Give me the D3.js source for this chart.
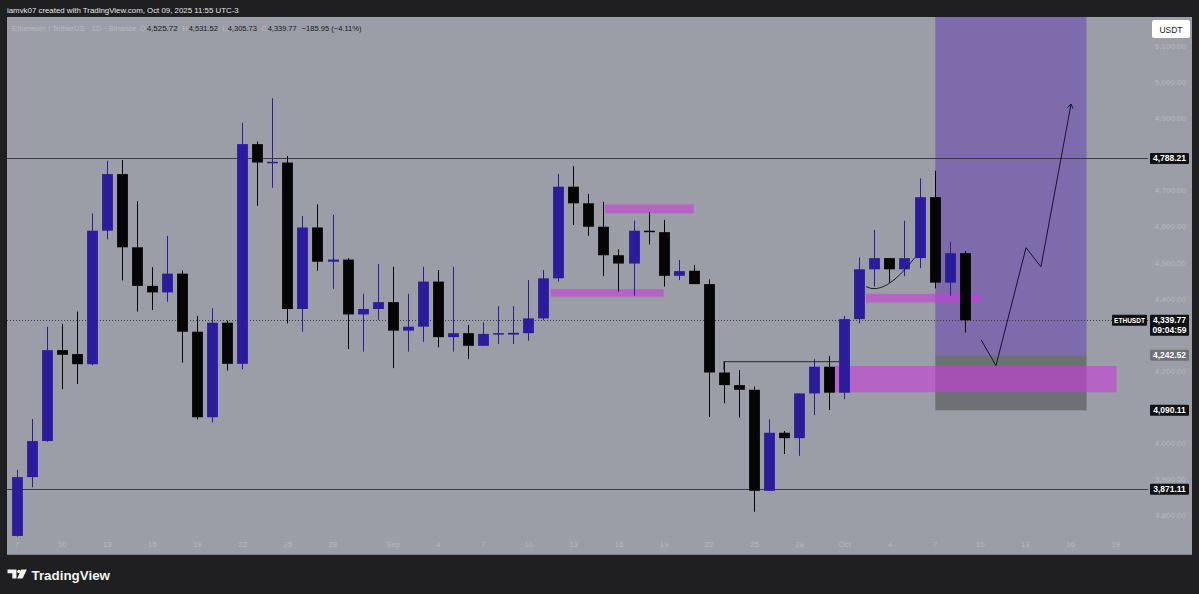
<!DOCTYPE html>
<html><head><meta charset="utf-8">
<script src="https://cdn.jsdelivr.net/npm/d3@7"></script>
<style>
html,body{margin:0;padding:0;background:#1f1f21;}
svg{display:block;}
text{font-family:"Liberation Sans","DejaVu Sans",sans-serif;}
</style></head><body>
<svg id="c" width="1199" height="594"></svg>
<script>
// ---------- DATA ----------
const dates = ["2025-08-07","2025-08-08","2025-08-09","2025-08-10","2025-08-11","2025-08-12","2025-08-13","2025-08-14","2025-08-15","2025-08-16",
"2025-08-17","2025-08-18","2025-08-19","2025-08-20","2025-08-21","2025-08-22","2025-08-23","2025-08-24","2025-08-25","2025-08-26",
"2025-08-27","2025-08-28","2025-08-29","2025-08-30","2025-08-31","2025-09-01","2025-09-02","2025-09-03","2025-09-04","2025-09-05",
"2025-09-06","2025-09-07","2025-09-08","2025-09-09","2025-09-10","2025-09-11","2025-09-12","2025-09-13","2025-09-14","2025-09-15",
"2025-09-16","2025-09-17","2025-09-18","2025-09-19","2025-09-20","2025-09-21","2025-09-22","2025-09-23","2025-09-24","2025-09-25",
"2025-09-26","2025-09-27","2025-09-28","2025-09-29","2025-09-30","2025-10-01","2025-10-02","2025-10-03","2025-10-04","2025-10-05",
"2025-10-06","2025-10-07","2025-10-08","2025-10-09"];
const open  = [3742,3905,4005,4257,4246,4218,4588,4745,4542,4435, 4417,4469,4308,4071,4333,4219,4828,4776,4777,4371,
               4597,4502,4508,4356,4371,4390,4311,4322,4447,4293, 4304,4269,4302,4300,4304,4345,4456,4710,4664,4599,
               4520,4497,4588,4584,4463,4477,4440,4195,4160,4147, 3867,4028,4013,4137,4211,4139,4343,4481,4512,4481,
               4512,4681,4444,4525.72];
const high  = [3925,4066,4322,4330,4364,4636,4782,4784,4670,4487, 4574,4478,4352,4373,4339,4887,4835,4955,4795,4629,
               4661,4632,4512,4413,4496,4488,4413,4488,4479,4488, 4327,4334,4379,4379,4451,4479,4745,4767,4690,4668,
               4536,4616,4640,4618,4507,4493,4453,4225,4202,4156, 4065,4033,4137,4232,4241,4352,4514,4590,4512,4616,
               4733,4754,4558,4531.52];
const low   = [3740,3877,4003,4149,4163,4215,4564,4450,4364,4368, 4391,4222,4065,4057,4200,4204,4657,4707,4331,4308,
               4477,4427,4260,4253,4341,4207,4253,4280,4265,4253, 4232,4268,4274,4274,4283,4340,4447,4604,4574,4462,
               4419,4408,4550,4433,4451,4440,4072,4110,4070,3809, 3867,3969,3964,4077,4091,4121,4331,4433,4444,4462,
               4484,4428,4408,4305.73];
const close = [3905,4005,4257,4244,4218,4588,4745,4542,4435,4417, 4469,4308,4071,4333,4219,4828,4777,4779,4371,4597,
               4502,4508,4356,4371,4390,4311,4322,4447,4293,4304, 4269,4302,4304,4305,4345,4456,4710,4664,4599,4520,
               4497,4588,4584,4463,4476,4440,4195,4160,4147,3867, 4028,4013,4137,4211,4139,4343,4481,4512,4481,4512,
               4681,4444,4525.72,4339.77];

const xTickDates  = ["2025-08-07","2025-08-10","2025-08-13","2025-08-16","2025-08-19","2025-08-22","2025-08-25","2025-08-28",
                     "2025-09-01","2025-09-04","2025-09-07","2025-09-10","2025-09-13","2025-09-16","2025-09-19","2025-09-22",
                     "2025-09-25","2025-09-28","2025-10-01","2025-10-04","2025-10-07","2025-10-10","2025-10-13","2025-10-16","2025-10-19"];
const xTickLabels = ["7","10","13","16","19","22","25","28","Sep","4","7","10","13","16","19","22","25","28","Oct","4","7","10","13","16","19"];
// visible price ticks (4100, 4300, 4800 are covered by price tags in the original)
const yTicks = [3800,3900,4000,4200,4400,4500,4600,4700,4900,5000,5100];

const levelLines = [4788.21, 3871.11];
const lastPrice = 4339.77;
const longPos = {start:"2025-10-07", startOff:0.05, end:"2025-10-17", endOff:0.1, target:5300, entry:4242.52, stop:4090.11};
const zones = [
  ["2025-09-15",0.1,"2025-09-21",0.0,4661,4636],
  ["2025-09-11",0.5,"2025-09-19",0.0,4426,4405],
  ["2025-10-02",0.45,"2025-10-10",0.07,4413,4389],
  ["2025-09-30",0.38,"2025-10-19",0.1,4213,4140]
];
const hLine = {from:"2025-09-23", to:"2025-09-30", toOff:0.7, price:4225};
const curvePts = [["2025-10-02",0.45,4433],["2025-10-03",0.7,4405],["2025-10-05",0.7,4514]];
const projPts = [["2025-10-10",0.1,4285],["2025-10-11",0.08,4214],["2025-10-13",0.08,4541],["2025-10-14",0.07,4488],["2025-10-16",0.07,4939]];

// ---------- SETUP ----------
const W=1199,H=594;
const parse=d3.utcParse("%Y-%m-%d");
const t0=parse("2025-08-07"), t1=parse("2025-10-22");
const x=d3.scaleUtc().domain([t0,t1]).range([16.5,16.5+76*15.05]);
const y=d3.scaleLinear().domain([3800,5100]).range([515,46]);
const xd=(d,off=0)=>x(new Date(parse(d).getTime()+off*864e5));
const bull="#2b1c9e", bear="#050505";
const faint="#b8bac0";

const svg=d3.select("#c");
svg.append("rect").attr("width",W).attr("height",H).attr("fill","#1f1f21");
svg.append("rect").attr("x",7).attr("y",17).attr("width",1185).attr("height",537).attr("fill","#9b9ea6");
svg.append("line").attr("x1",7).attr("x2",1192).attr("y1",554.5).attr("y2",554.5).attr("stroke","#7c7e85");

const defs=svg.append("defs");
defs.append("clipPath").attr("id","plot").append("rect").attr("x",7).attr("y",17).attr("width",1141).attr("height",537);
const g=svg.append("g").attr("clip-path","url(#plot)");

function fit(sel,w){const n=sel.node();const L=n.getComputedTextLength();if(L>0){const fs=parseFloat(sel.attr("font-size"));sel.attr("font-size",fs*w/L);} return sel;}

// price ticks
const yAxis=d3.axisLeft(y).tickValues(yTicks).tickFormat(d3.format(",.2f")).tickSize(0).tickPadding(0);
const ya=svg.append("g").attr("transform","translate(1186,0)").call(yAxis);
ya.select(".domain").remove();
ya.selectAll("text").attr("fill",faint).attr("font-size",8).attr("font-family","Liberation Sans");

// date ticks
const xAxis=d3.axisBottom(x).tickValues(xTickDates.map(parse)).tickFormat((d,i)=>xTickLabels[i]).tickSize(0).tickPadding(0);
const xa=svg.append("g").attr("transform","translate(0,541)").call(xAxis);
xa.select(".domain").remove();
xa.selectAll("text").attr("fill",faint).attr("font-size",8).attr("font-family","Liberation Sans");

// long position
const lx0=xd(longPos.start,longPos.startOff), lx1=xd(longPos.end,longPos.endOff);
g.append("rect").attr("x",lx0).attr("width",lx1-lx0).attr("y",y(longPos.target)).attr("height",y(longPos.entry)-y(longPos.target))
  .attr("fill","rgb(95,55,175)").attr("fill-opacity",0.5);
g.append("rect").attr("x",lx0).attr("width",lx1-lx0).attr("y",y(longPos.entry)).attr("height",y(longPos.stop)-y(longPos.entry))
  .attr("fill","rgb(55,55,58)").attr("fill-opacity",0.45);

// level lines
levelLines.forEach(v=>{
  g.append("line").attr("x1",7).attr("x2",1148).attr("y1",Math.round(y(v))+0.5).attr("y2",Math.round(y(v))+0.5)
   .attr("stroke","#3a3c44").attr("stroke-width",1);
});
g.append("line").attr("x1",7).attr("x2",1148).attr("y1",Math.round(y(lastPrice))+0.5).attr("y2",Math.round(y(lastPrice))+0.5)
  .attr("stroke","#3d3e44").attr("stroke-dasharray","1,2");

// zones
zones.forEach(z=>{
  const a=xd(z[0],z[1]), b=xd(z[2],z[3]);
  g.append("rect").attr("x",a).attr("width",b-a).attr("y",y(z[4])).attr("height",y(z[5])-y(z[4]))
   .attr("fill","rgb(200,60,220)").attr("fill-opacity",0.6);
});

// horizontal level from high
g.append("path").attr("d",`M${xd(hLine.from)},${y(hLine.price)+8}V${y(hLine.price)}H${xd(hLine.to,hLine.toOff)}`)
  .attr("fill","none").attr("stroke","#2a2b30").attr("stroke-width",1);

// candles
const data=dates.map((d,i)=>({d:parse(d),o:open[i],h:high[i],l:low[i],c:close[i]}));
const bw=10.8;
const cg=g.append("g");
const cs=cg.selectAll("g").data(data).join("g");
cs.append("line").attr("x1",d=>Math.round(x(d.d))+0.5).attr("x2",d=>Math.round(x(d.d))+0.5)
  .attr("y1",d=>y(d.h)).attr("y2",d=>y(d.l)).attr("stroke",d=>d.c>=d.o?bull:bear).attr("stroke-width",1);
cs.append("rect").attr("x",d=>Math.round(x(d.d))+0.5-bw/2).attr("width",bw)
  .attr("y",d=>y(Math.max(d.o,d.c))).attr("height",d=>Math.max(1.5,Math.abs(y(d.o)-y(d.c))))
  .attr("fill",d=>d.c>=d.o?bull:bear);

// curve
const cp=curvePts.map(p=>[xd(p[0],p[1]),y(p[2])]);
g.append("path").attr("d",`M${cp[0][0]},${cp[0][1]}Q${cp[1][0]},${cp[1][1]} ${cp[2][0]},${cp[2][1]}`)
  .attr("fill","none").attr("stroke","#1d1d28").attr("stroke-width",1);

// projection path
const pp=projPts.map(p=>[xd(p[0],p[1]),y(p[2])]);
g.append("path").attr("d",d3.line()(pp)).attr("fill","none").attr("stroke","#16142a").attr("stroke-width",1);
const tip=pp[pp.length-1], prev=pp[pp.length-2];
const ang=Math.atan2(tip[1]-prev[1],tip[0]-prev[0]);
const ah=5;
g.append("path").attr("d",`M${tip[0]-ah*Math.cos(ang-0.6)},${tip[1]-ah*Math.sin(ang-0.6)}L${tip[0]},${tip[1]}L${tip[0]-ah*Math.cos(ang+0.6)},${tip[1]-ah*Math.sin(ang+0.6)}`)
  .attr("fill","none").attr("stroke","#16142a").attr("stroke-width",1);

// price tags
function tag(v,lines,bg,fg,x0=1150,w=39){
  const cy=y(v); const h=11+(lines.length-1)*10;
  svg.append("rect").attr("x",x0).attr("y",cy-5.5).attr("width",w).attr("height",h).attr("fill",bg).attr("rx",1);
  lines.forEach((t,i)=>{
    const tx=svg.append("text").attr("x",x0+w/2).attr("y",cy+3+i*10).attr("text-anchor","middle")
      .attr("fill",fg).attr("font-size",8.5).attr("font-weight","bold").text(t);
    if(tx.node().getComputedTextLength()>w-4) fit(tx,w-4);
  });
}
tag(4788.21,["4,788.21"],"#111214","#ffffff");
tag(4242.52,["4,242.52"],"#6f7177","#ffffff");
tag(4090.11,["4,090.11"],"#111214","#ffffff");
tag(3871.11,["3,871.11"],"#111214","#ffffff");
tag(lastPrice,["4,339.77","09:04:59"],"#111214","#ffffff");
tag(lastPrice,["ETHUSDT"],"#111214","#ffffff",1112,35);

// USDT box
svg.append("rect").attr("x",1152).attr("y",20).attr("width",38).attr("height",18).attr("rx",2.5).attr("fill","#ffffff");
svg.append("text").attr("x",1171).attr("y",32.5).attr("text-anchor","middle").attr("fill","#222").attr("font-size",8.5).text("USDT");

// header
fit(svg.append("text").attr("x",7).attr("y",12.5).attr("fill","#e6e6e6").attr("font-size",9).text("iamvk07 created with TradingView.com, Oct 09, 2025 11:55 UTC-3"),232);

// legend: [x, text, colour, fitWidth, fontSize]
const leg=[
  [12,"Ethereum / TetherUS · 1D · Binance",faint,125,9.5],
  [140,"O",faint,0,7],[146.7,"4,525.72","#1a1a1a",31,9.5],
  [182.5,"H",faint,0,7],[188.7,"4,531.52","#1a1a1a",29.3,9.5],
  [222.5,"L",faint,0,7],[227.7,"4,305.73","#1a1a1a",29.3,9.5],
  [261.5,"C",faint,0,7],[267.7,"4,339.77","#1a1a1a",29,9.5],
  [301.7,"−185.95 (−4.11%)","#1a1a1a",60,9.5]
];
leg.forEach(l=>{
  const t=svg.append("text").attr("x",l[0]).attr("y",30.5).attr("fill",l[2]).attr("font-size",l[4]).text(l[1]);
  if(l[3]) fit(t,l[3]);
});

// footer logo
const lg=svg.append("g").attr("fill","#f2f2f2");
lg.append("path").attr("d","M7.5,569.5H16.5V578.5H12.3V573.2H7.5Z");
lg.append("circle").attr("cx",19).attr("cy",571.5).attr("r",1.8);
lg.append("path").attr("d","M21.2,569.5H26.8L22.6,578.5H17.2Z");
fit(svg.append("text").attr("x",31.5).attr("y",579.5).attr("fill","#f2f2f2").attr("font-size",14).attr("font-family","Inter").attr("font-weight",600).text("TradingView"),78.5);
</script>
</body></html>
